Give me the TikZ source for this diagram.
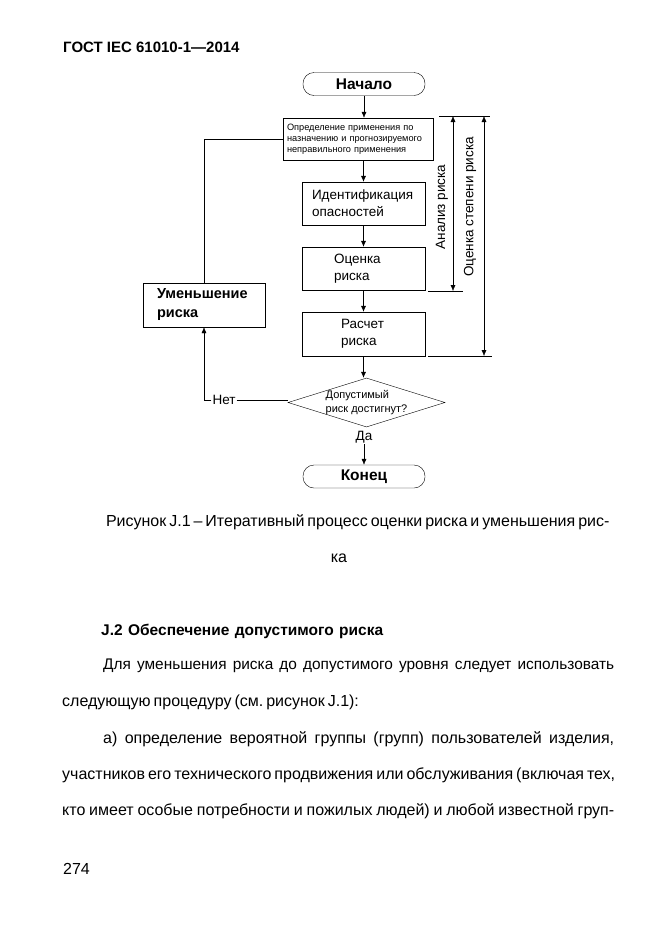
\documentclass[tikz,border=0pt]{standalone}
\usepackage{fontspec}
\setmainfont{Liberation Sans}
\usetikzlibrary{arrows.meta, shapes.geometric, positioning}
\frenchspacing
\tikzset{%
>={Latex[width=5pt,length=6pt]},
  % Specifications for style of nodes:
            block/.style = {rectangle, draw=black, minimum width=123pt,
                            minimum height=43pt, align=left, inner ysep=0pt,
                            font=\fontsize{13.5}{17}\selectfont},
            term/.style = {rectangle, rounded corners=11pt, draw=black,
                            minimum width=122pt, minimum height=23pt, inner sep=0pt,
                            font=\bfseries\fontsize{15.5}{18}\selectfont},
            decision/.style = {diamond, draw=black, aspect=3.2, minimum width=157pt,
                            minimum height=49pt, inner sep=-6pt, align=left,
                            font=\fontsize{11}{14.5}\selectfont},
            lbl/.style = {inner sep=1pt, font=\fontsize{13.5}{15}\selectfont},
            txt/.style = {inner sep=0pt, anchor=base west, font=\fontsize{16}{18}\selectfont}
}
\begin{document}
\begin{tikzpicture}[x=1pt, y=-1pt]
                \useasboundingbox (0,0) rectangle (661,935);

                \node[txt, font=\bfseries\fontsize{15}{18}\selectfont] (head) at (63,52) {ГОСТ IEC 61010-1—2014};

                % flow chart
                \node[term] (start) at (364,84) {Начало};
                \node[block, minimum width=150pt, minimum height=42pt, text width=142pt, inner xsep=4pt,
                      font=\fontsize{9.2}{11}\selectfont] (def) at (358,139)
                      {Определение применения по\\назначению и прогнозируемого\\неправильного применения};
                \node[block, text width=103pt, inner xsep=10pt] (ident) at (363.5,203.5) {Идентификация\\опасностей};
                \node[block, text width=59pt, inner xsep=32pt] (eval) at (363.5,268.5) {Оценка\\риска};
                \node[block, minimum height=44pt, text width=45pt, inner xsep=39pt] (calc) at (363.5,334) {Расчет\\риска};
                \node[block, minimum width=122pt, minimum height=44pt, text width=94pt, inner xsep=14pt,
                      font=\bfseries\fontsize{14.5}{19}\selectfont] (reduce) at (204,305) {Уменьшение\\риска};
                \node[decision] (decide) at (366.5,402.5) {Допустимый\\риск достигнут?};
                \node[term] (end) at (364,476.5) {Конец};
                \node[lbl] (yes) at (364,437) {Да};
                \node[lbl] (no) at (224,400) {Нет};

                \draw[->] (start) -- (start |- def.north);
                \draw[->] (ident |- def.south) -- (ident);
                \draw[->] (ident) -- (eval);
                \draw[->] (eval) -- (calc);
                \draw[->] (calc) -- (calc |- decide.north);
                \draw[->] (yes) -- (end);
                \draw (no) -- (no -| decide.west);
                \draw[->] (no.west) -| (reduce.south);
                \draw (reduce.north) |- (def.west);

                % risk analysis / risk assessment ranges
                \coordinate (ta) at (439,116);
                \coordinate (tb) at (490,116);
                \coordinate (ma) at (428,291);
                \coordinate (mb) at (463,291);
                \coordinate (ba) at (428,356);
                \coordinate (bb) at (492,356);
                \draw (ta) -- (tb);
                \draw (ma) -- (mb);
                \draw (ba) -- (bb);
                \coordinate (a1) at (453,116);
                \coordinate (a2) at (453,291);
                \coordinate (b1) at (484,116);
                \coordinate (b2) at (484,356);
                \draw[<->] (a1) -- (a2);
                \draw[<->] (b1) -- (b2);
                \node[lbl, rotate=90] (an) at (442,207) {Анализ риска};
                \node[lbl, rotate=90] (oc) at (470,207) {Оценка степени риска};

                % caption and text
                \node[txt, anchor=base] (cap1) at (356,526) {\makebox[500pt][s]{Рисунок J.1 – Итеративный процесс оценки риска и уменьшения рис-}};
                \node[txt, anchor=base] (cap2) at (339,562) {ка};
                \node[txt, font=\bfseries\fontsize{15.5}{18}\selectfont] (sec) at (101,635) {\makebox[282pt][s]{J.2 Обеспечение допустимого риска}};
                \node[txt, font=\fontsize{15.4}{18}\selectfont] (p1) at (103,669) {\makebox[511pt][s]{Для уменьшения риска до допустимого уровня следует использовать}};
                \node[txt] (p2) at (62,706) {\makebox[286pt][s]{следующую процедуру (см. рисунок J.1):}};
                \node[txt] (p3) at (103,743) {\makebox[511pt][s]{а) определение вероятной группы (групп) пользователей изделия,}};
                \node[txt] (p4) at (62,779) {\makebox[552pt][s]{участников его технического продвижения или обслуживания (включая тех,}};
                \node[txt] (p5) at (62,815) {\makebox[552pt][s]{кто имеет особые потребности и пожилых людей) и любой известной груп-}};
                \node[txt] (pg) at (63,874) {274};

            \end{tikzpicture}
\end{document}
